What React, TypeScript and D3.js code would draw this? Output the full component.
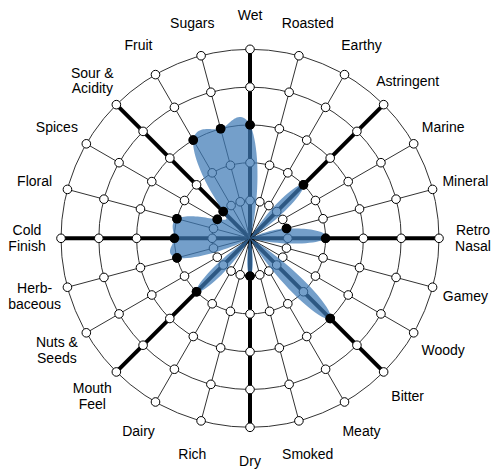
import { useEffect, useRef } from 'react';
import * as d3 from 'd3';

const attributes = [
  'Wet', 'Roasted', 'Earthy', 'Astringent', 'Marine', 'Mineral',
  'Retro\nNasal', 'Gamey', 'Woody', 'Bitter', 'Meaty', 'Smoked',
  'Dry', 'Rich', 'Dairy', 'Mouth\nFeel', 'Nuts &\nSeeds', 'Herb-\nbaceous',
  'Cold\nFinish', 'Floral', 'Spices', 'Sour &\nAcidity', 'Fruit', 'Sugars',
];

const scores = [
  3, 0, 0, 2, 0, 1,
  2, 0, 0, 3, 0, 0,
  1, 0, 0, 2, 0, 2,
  2, 2, 1, 1, 3, 3,
];

const levels = [1, 2, 3, 4, 5];

const width = 500;
const height = 476;

// smooth the radius as a function of angle (closed catmull-rom, clamped at 0)
function polarSmooth(values: number[], steps = 24) {
  const n = values.length;
  const at = (k: number) => values[((k % n) + n) % n];
  const out: { pos: number; v: number }[] = [];
  for (let i = 0; i < n; i++) {
    const p0 = at(i);
    const p1 = at(i + 1);
    const m0 = (at(i + 1) - at(i - 1)) / 2;
    const m1 = (at(i + 2) - at(i)) / 2;
    for (let s = 0; s < steps; s++) {
      const t = s / steps;
      const t2 = t * t;
      const t3 = t2 * t;
      const v =
        (2 * t3 - 3 * t2 + 1) * p0 +
        (t3 - 2 * t2 + t) * m0 +
        (-2 * t3 + 3 * t2) * p1 +
        (t3 - t2) * m1;
      out.push({ pos: i + t, v: Math.max(0, v) });
    }
  }
  return out;
}

export default function App() {
  const ref = useRef<SVGSVGElement | null>(null);

  useEffect(() => {
    const svg = d3.select(ref.current);
    svg.selectAll('*').remove();

    const cx = 250;
    const cy = 238.3;
    const outer = 189;
    const labelR = 223;

    const r = d3.scaleLinear().domain([0, 5]).range([0, outer]);
    const angle = d3
      .scaleLinear()
      .domain([0, attributes.length])
      .range([0, 2 * Math.PI]);
    const px = (i: number, v: number) => r(v) * Math.sin(angle(i));
    const py = (i: number, v: number) => -r(v) * Math.cos(angle(i));

    const g = svg.append('g').attr('transform', `translate(${cx},${cy})`);

    // rings
    g.selectAll('circle.ring')
      .data(levels)
      .join('circle')
      .attr('class', 'ring')
      .attr('r', d => r(d))
      .attr('fill', 'none')
      .attr('stroke', '#333')
      .attr('stroke-width', 1);

    // spokes
    g.selectAll('line.spoke')
      .data(attributes)
      .join('line')
      .attr('class', 'spoke')
      .attr('x1', 0)
      .attr('y1', 0)
      .attr('x2', (_, i) => px(i, 5))
      .attr('y2', (_, i) => py(i, 5))
      .attr('stroke', (_, i) => (i % 3 === 0 ? '#000' : '#333'))
      .attr('stroke-width', (_, i) => (i % 3 === 0 ? 4 : 1));

    // ring nodes
    const nodes = attributes.flatMap((_, i) => levels.map(l => ({ i, l })));
    g.selectAll('circle.node')
      .data(nodes)
      .join('circle')
      .attr('class', 'node')
      .attr('cx', d => px(d.i, d.l))
      .attr('cy', d => py(d.i, d.l))
      .attr('r', 4.3)
      .attr('fill', '#fff')
      .attr('stroke', '#000')
      .attr('stroke-width', 1);

    // area
    const line = d3
      .lineRadial<{ pos: number; v: number }>()
      .angle(d => angle(d.pos))
      .radius(d => r(d.v))
      .curve(d3.curveLinearClosed);

    g.append('path')
      .datum(polarSmooth(scores))
      .attr('d', line)
      .attr('fill', 'rgb(62,122,182)')
      .attr('fill-opacity', 0.72)
      .attr('stroke', 'none');

    // value dots
    g.selectAll('circle.dot')
      .data(scores)
      .join('circle')
      .attr('class', 'dot')
      .attr('cx', (d, i) => px(i, d))
      .attr('cy', (d, i) => py(i, d))
      .attr('r', d => (d > 0 ? 4.8 : 0))
      .attr('fill', '#000');

    // labels
    const labels = g
      .selectAll('text.label')
      .data(attributes)
      .join('text')
      .attr('class', 'label')
      .attr('text-anchor', 'middle')
      .attr('font-family', 'Arial, "Liberation Sans", sans-serif')
      .attr('font-size', 14)
      .attr('fill', '#000')
      .attr('transform', (_, i) => {
        const x = labelR * Math.sin(angle(i));
        const y = -labelR * Math.cos(angle(i));
        return `translate(${x},${y})`;
      });

    labels.each(function (d) {
      const parts = d.split('\n');
      const t = d3.select(this);
      parts.forEach((p, k) => {
        t.append('tspan')
          .attr('x', 0)
          .attr('y', (k - (parts.length - 1) / 2) * 15.7 + 5)
          .text(p);
      });
    });
  }, []);

  return (
    <svg
      ref={ref}
      width={width}
      height={height}
      style={{ position: 'absolute', left: 0, top: 0, background: '#fff' }}
    ></svg>
  );
}
